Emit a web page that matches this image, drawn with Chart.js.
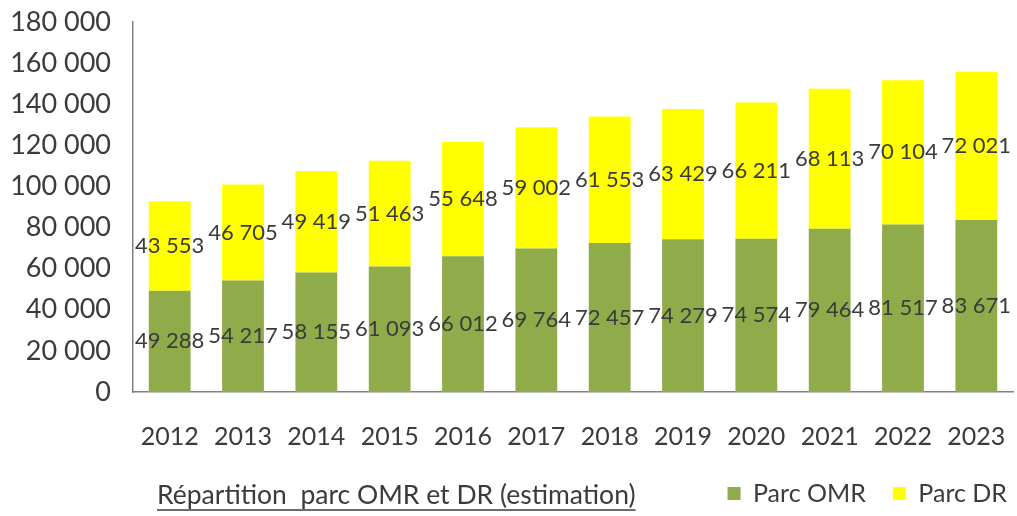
<!DOCTYPE html>
<html>
<head>
<meta charset="utf-8">
<script src="https://cdn.jsdelivr.net/npm/chart.js@4"></script>
<style>
	html, body { margin: 0; padding: 0; background: #fff; }
	#wrap { width: 1017px; height: 516px; position: relative; }
</style>
</head>
<body>
<div id="wrap"><canvas id="parcChart" width="1017" height="516"></canvas></div>
<script>
var years = ['2012', '2013', '2014', '2015', '2016', '2017', '2018', '2019', '2020', '2021', '2022', '2023'];
var parcOMR = [49288, 54217, 58155, 61093, 66012, 69764, 72457, 74279, 74574, 79464, 81517, 83671];
var parcDR = [43553, 46705, 49419, 51463, 55648, 59002, 61553, 63429, 66211, 68113, 70104, 72021];
var caption = 'Répartition  parc OMR et DR (estimation)';

var textColor = '#3b3b3b';
var fontName = 'Lato, "DejaVu Sans", sans-serif';

// 20 000 style formatting
function fmt(v) {
	return String(v).replace(/\B(?=(\d{3})+(?!\d))/g, ' ');
}

// values in the middle of each segment
var segmentLabels = {
	id: 'segmentLabels',
	afterDatasetsDraw: function(chart) {
		var ctx = chart.ctx;
		ctx.save();
		ctx.font = '22px ' + fontName;
		ctx.fillStyle = textColor;
		ctx.textAlign = 'center';
		ctx.textBaseline = 'middle';
		chart.data.datasets.forEach(function(ds, i) {
			chart.getDatasetMeta(i).data.forEach(function(bar, j) {
				var p = bar.getProps(['x', 'y', 'base'], true);
				ctx.fillText(fmt(ds.data[j]), p.x, (p.y + p.base) / 2);
			});
		});
		ctx.restore();
	}
};

// underlined caption bottom left
var captionPlugin = {
	id: 'captionPlugin',
	afterDraw: function(chart) {
		var ctx = chart.ctx;
		var x = 157, y = 495;
		ctx.save();
		ctx.font = '26.5px ' + fontName;
		ctx.fillStyle = textColor;
		ctx.textAlign = 'left';
		ctx.textBaseline = 'middle';
		ctx.fillText(caption, x, y);
		var w = ctx.measureText(caption).width;
		ctx.strokeStyle = textColor;
		ctx.lineWidth = 1.5;
		ctx.beginPath();
		ctx.moveTo(x, y + 15);
		ctx.lineTo(x + w, y + 15);
		ctx.stroke();
		ctx.restore();
	}
};

var ctx = document.getElementById('parcChart').getContext('2d');
var chart = new Chart(ctx, {
	type: 'bar',
	data: {
		labels: years,
		datasets: [{
			label: 'Parc OMR',
			data: parcOMR,
			backgroundColor: '#8fab4a',
			categoryPercentage: 1,
			barPercentage: 0.57
		}, {
			label: 'Parc DR',
			data: parcDR,
			backgroundColor: '#ffff00',
			categoryPercentage: 1,
			barPercentage: 0.57
		}]
	},
	plugins: [segmentLabels, captionPlugin],
	options: {
		responsive: false,
		animation: false,
		layout: {
			padding: { top: 22, left: 8, right: -17, bottom: 0 }
		},
		scales: {
			x: {
				stacked: true,
				grid: { display: false, drawTicks: false },
				border: { color: '#808080', width: 1.5 },
				ticks: {
					color: textColor,
					padding: 30,
					font: { size: 25, family: fontName }
				},
				afterFit: function(s) {
					s.height = 62;
					s.paddingLeft = 0;
					s.paddingRight = 4;
				}
			},
			y: {
				stacked: true,
				min: 0,
				max: 180000,
				grid: { display: false, drawTicks: false },
				border: { color: '#808080', width: 1.5 },
				ticks: {
					stepSize: 20000,
					color: textColor,
					padding: 22,
					font: { size: 27, family: fontName },
					callback: function(v) { return fmt(v); }
				},
				afterFit: function(s) {
					s.width = 125;
					s.paddingTop = 0;
					s.paddingBottom = 0;
				}
			}
		},
		plugins: {
			legend: {
				position: 'bottom',
				align: 'end',
				labels: {
					color: textColor,
					boxWidth: 13,
					boxHeight: 13,
					padding: 27,
					font: { size: 25, family: fontName }
				}
			},
			tooltip: { enabled: false }
		}
	}
});
</script>
</body>
</html>
